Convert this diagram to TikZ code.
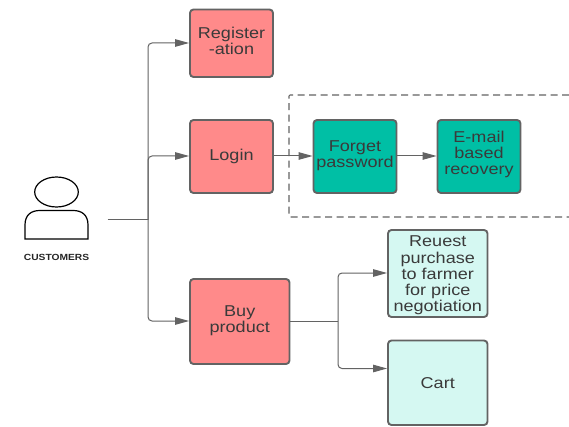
\documentclass[tikz,border=0pt]{standalone}
\usepackage{fontspec}
\setmainfont[FakeStretch=1.15]{Liberation Sans}
\usetikzlibrary{arrows.meta,positioning,calc}
\definecolor{pinkbox}{HTML}{FF8A8A}
\definecolor{tealbox}{HTML}{00BFA5}
\definecolor{palebox}{HTML}{D5F8F2}
\definecolor{edgegray}{HTML}{636363}
\definecolor{txtgray}{HTML}{3A3A3A}
\tikzset{
 x=1pt,y=-1pt,
 boxbase/.style={draw=edgegray,line width=1.9pt,rounded corners=3.5pt,inner sep=0pt,align=center,text=txtgray,font=\fontsize{15.7}{16.2}\selectfont},
 pinkn/.style={boxbase,fill=pinkbox},
 tealn/.style={boxbase,fill=tealbox},
 palen/.style={boxbase,fill=palebox},
 conn/.style={draw=edgegray,line width=1pt,rounded corners=4pt},
 arrowc/.style={conn,-{Triangle[length=14pt,width=7.5pt,fill=edgegray]}},
 plainc/.style={conn},
}
\newcommand{\bx}[7]{\node[#1,minimum width=#5 pt-#3 pt,minimum height=#6 pt-#4 pt] (#2) at ({(#3+#5)/2},{(#4+#6)/2}) {#7};}
\begin{document}
\begin{tikzpicture}
\useasboundingbox (0,0) rectangle (569,427);
\fill[white] (0,0) rectangle (569,427);
% dashed region
\draw[edgegray,line width=1.05pt,dash pattern=on 7pt off 4.5pt,rounded corners=1pt] (569,95) -- (289,95) -- (289,217) -- (569,217);
% person
\draw[black,line width=1.2pt] (56.5,192) ellipse [x radius=21.8,y radius=15];
\draw[black,line width=1.2pt] (25,239) -- (25,225) .. controls (25,215) and (31,210.5) .. (40,210.5) -- (73,210.5) .. controls (82,210.5) and (88,215) .. (88,225) -- (88,239) -- cycle;
\node[font=\fontsize{8.9}{9}\selectfont\bfseries,text=black!85,inner sep=0pt] (cust) at (56.5,257) {CUSTOMERS};
\coordinate (src) at (107.5,220);
\coordinate (trunk) at (148,220);
\coordinate (fork) at (338,321);
% boxes
\bx{pinkn}{reg}{190}{9.5}{273}{77}{Register\\-ation\vspace{5pt}}
\bx{pinkn}{login}{190}{120}{273}{193}{Login\vspace{3.5pt}}
\bx{pinkn}{buy}{190}{279}{289.5}{364}{Buy\\product\vspace{2pt}}
\bx{tealn}{forget}{313.5}{120}{396.5}{193}{Forget\\password\vspace{2pt}}
\bx{tealn}{email}{437.5}{120}{520.5}{193}{E-mail\\based\\recovery\vspace{4pt}}
\bx{palen}{req}{388}{230}{487.5}{317}{Reuest\\purchase\\to farmer\\for price\\negotiation\vspace{-4pt}}
\bx{palen}{cart}{388}{340.5}{487.5}{425}{Cart\vspace{3.5pt}}
% connectors
\draw[plainc] (src) -- (trunk);
\draw[arrowc] (trunk) -- (148,43) -- (reg.west |- 0,43);
\draw[arrowc] (trunk) -- (148,156) -- (login.west |- 0,156);
\draw[arrowc] (trunk) -- (148,321) -- (buy.west |- 0,321);
\draw[arrowc] (login.east |- 0,156) -- (forget.west |- 0,156);
\draw[arrowc] (forget.east |- 0,156) -- (email.west |- 0,156);
\draw[plainc] (buy.east |- 0,321) -- (fork);
\draw[arrowc] (fork) -- (338,273) -- (req.west |- 0,273);
\draw[arrowc] (fork) -- (338,368.5) -- (cart.west |- 0,368.5);
\end{tikzpicture}
\end{document}
